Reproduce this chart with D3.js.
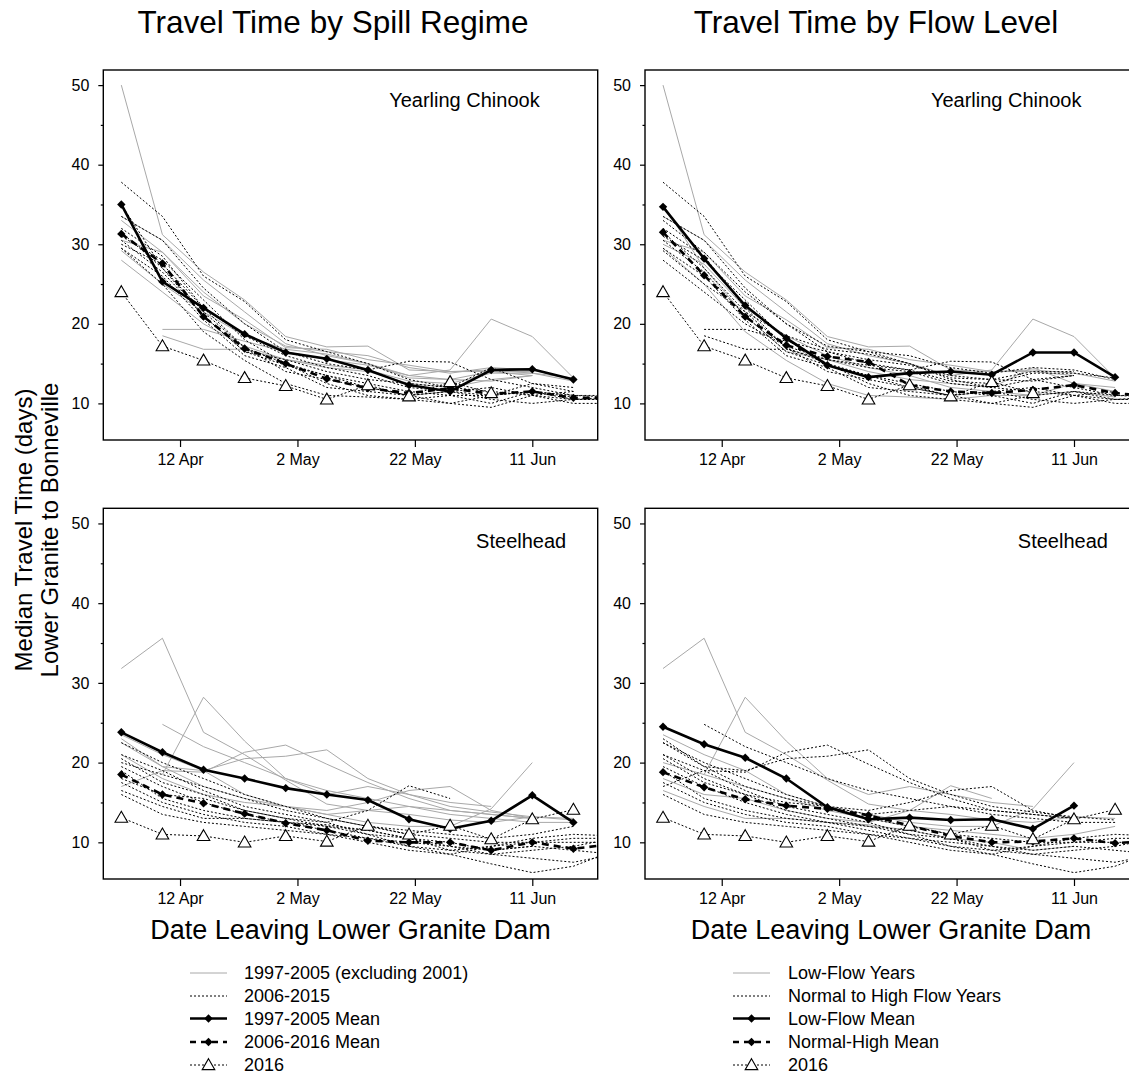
<!DOCTYPE html>
<html>
<head>
<meta charset="utf-8">
<script src="https://d3js.org/d3.v7.min.js"></script>
<style>
body { margin: 0; background: #fff; }
text { font-family: "Liberation Sans", Arial, sans-serif; fill: #000; }
</style>
</head>
<body>
<script>

// weekly release dates (last one falls just past the axis and gets clipped)
var weeks = ["2016-04-02", "2016-04-09", "2016-04-16", "2016-04-23", "2016-04-30", "2016-05-07",
             "2016-05-14", "2016-05-21", "2016-05-28", "2016-06-04", "2016-06-11", "2016-06-18", "2016-06-25"];

var years = [1997, 1998, 1999, 2000, 2002, 2003, 2004, 2005,
             2006, 2007, 2008, 2009, 2010, 2011, 2012, 2013, 2014, 2015];
var lowFlowYears = [2003, 2004, 2005, 2007, 2010, 2015];

// one row per year, same order as years
var chinookByYear = [
  [null, 19.3, 19.3, 17.8, 16.5, 15.5, 14.8, 13.5, 13.0, 12.8, 13.5, null, null],
  [null, 18.5, 16.8, 16.8, 15.5, 14.5, 14.0, 12.5, 12.0, 13.0, 13.5, null, null],
  [28.0, 24.0, 20.0, 17.2, 15.5, 14.8, 14.2, 12.8, 12.5, 13.8, 13.8, 13.2, null],
  [29.2, 25.0, 21.5, 18.5, 16.8, 16.2, 15.0, 13.2, 13.0, 14.0, 14.0, null, null],
  [33.0, 29.0, 24.0, 20.0, 17.2, 16.5, 16.0, 14.5, 13.8, 14.5, 14.2, 13.0, null],
  [30.5, 29.0, 23.5, 20.5, 17.0, 16.8, 15.5, 14.8, 14.0, 14.2, 13.8, 12.8, null],
  [33.5, 30.5, 25.5, 21.5, 17.5, 16.0, 15.0, 13.5, 14.2, 20.6, 18.4, 13.2, null],
  [50.0, 31.2, 26.5, 23.0, 18.4, 17.1, 17.2, 14.2, 14.0, 14.0, 13.5, null, null],
  [37.8, 33.5, 26.0, 22.8, 18.0, 16.5, 15.0, 13.0, 12.0, 11.5, 11.0, 10.5, 10.5],
  [30.0, 27.5, 22.0, 18.5, 16.0, 14.5, 13.5, 12.0, 11.5, 11.0, 11.5, 10.8, null],
  [33.5, 30.5, 24.5, 20.0, 16.5, 15.0, 14.2, 15.3, 15.2, 13.0, 12.0, 11.0, 10.8],
  [32.0, 28.5, 22.0, 17.0, 15.0, 13.5, 12.0, 11.0, 11.5, 12.0, 11.0, 10.0, 10.0],
  [35.0, 27.0, 21.0, 16.5, 15.5, 14.0, 13.0, 12.5, 12.0, 14.5, 12.5, 11.5, null],
  [31.0, 28.0, 23.0, 18.0, 15.0, 12.5, 11.0, 10.5, 10.0, 11.0, 11.5, 11.0, 11.0],
  [29.5, 26.0, 20.5, 16.0, 14.5, 12.0, 11.5, 11.0, 11.5, 10.5, 10.0, 10.5, 10.5],
  [31.5, 27.0, 21.5, 17.0, 14.0, 13.0, 12.0, 11.0, 10.0, 9.5, 11.0, 11.5, null],
  [30.5, 26.5, 21.0, 16.5, 14.8, 13.5, 12.5, 11.5, 11.0, 10.0, 11.5, 10.5, 10.8],
  [29.5, 25.0, 19.0, 15.4, 12.5, 11.0, 10.8, 10.5, 11.0, 11.0, 12.5, 12.0, null]
];

var steelheadByYear = [
  [null, 24.8, 22.0, 20.0, 18.0, 16.5, 15.5, 14.5, 14.0, 13.5, 13.0, null, null],
  [17.0, 19.0, 18.8, 21.3, 22.2, 19.8, 17.5, 15.5, 14.0, 13.5, 13.0, null, null],
  [22.5, 19.5, 19.0, 20.5, 20.8, 21.6, 18.0, 16.0, 14.5, 13.8, 13.2, 12.8, null],
  [21.0, 18.0, 16.0, 15.0, 14.5, 14.0, 15.0, 16.5, 17.0, 14.0, 13.0, null, null],
  [23.0, 19.5, 17.0, 15.5, 14.5, 13.5, 14.0, 14.5, 13.5, 13.0, 12.5, 12.5, null],
  [23.5, 21.0, 19.0, 16.0, 14.5, 13.5, 12.5, 12.0, 12.0, 14.2, 20.0, null, null],
  [null, 18.5, 28.2, 22.7, 18.0, 16.0, 17.0, 16.0, 15.0, 14.5, null, null, null],
  [31.8, 35.6, 23.8, 21.0, 17.8, 14.8, 14.0, 13.5, 12.8, 12.5, 13.2, 13.0, null],
  [22.5, 20.0, 18.0, 16.0, 14.5, 13.0, 12.0, 11.0, 10.5, 10.0, 10.0, 10.5, 10.5],
  [20.0, 18.5, 17.0, 15.5, 14.0, 13.0, 12.0, 11.5, 11.0, 10.5, 11.0, 12.0, null],
  [21.0, 19.0, 16.5, 14.5, 13.5, 12.5, 11.0, 10.5, 9.5, 8.5, 9.0, 9.5, 10.5],
  [19.5, 17.0, 15.0, 13.5, 12.5, 11.5, 10.5, 9.5, 9.0, 8.5, 8.0, 7.5, 8.5],
  [18.0, 16.0, 15.5, 14.0, 13.0, 12.5, 14.0, 17.1, 15.5, null, null, null, null],
  [17.5, 15.0, 13.5, 12.5, 12.0, 11.0, 10.0, 9.0, 8.5, 7.3, 6.2, 7.0, 9.0],
  [16.0, 13.5, 12.5, 12.0, 11.5, 11.0, 10.5, 10.0, 9.5, 9.0, 9.5, 9.0, 8.5],
  [19.0, 15.5, 14.0, 13.0, 12.5, 12.0, 11.0, 9.5, 8.5, 9.5, 10.0, 10.0, 10.0],
  [20.5, 17.5, 16.0, 14.0, 13.0, 12.0, 11.5, 10.5, 9.0, 9.5, 10.5, 11.0, 10.8],
  [16.5, 14.5, 13.0, 13.0, 12.5, 12.2, 11.5, 10.5, 10.0, 9.0, 9.5, null, null]
];

var chinookMean9705 = [35.0, 25.3, 22.0, 18.7, 16.4, 15.6, 14.2, 12.3, 11.5, 14.2, 14.3, 13.0, null];
var chinookMean0616 = [31.3, 27.6, 20.9, 16.9, 15.0, 13.1, 11.9, 11.3, 11.9, 11.2, 11.5, 10.7, 10.7];
var chinookLowMean  = [34.7, 28.2, 22.3, 18.2, 14.8, 13.3, 13.8, 14.0, 13.6, 16.4, 16.4, 13.3, null];
var chinookHighMean = [31.5, 26.1, 20.9, 17.3, 15.9, 15.2, 12.3, 11.5, 11.3, 11.7, 12.3, 11.3, 10.8];
var chinook2016     = [24.0, 17.2, 15.4, 13.2, 12.2, 10.5, 12.3, 10.9, 12.7, 11.3, null, null, null];

var steelheadMean9705 = [23.8, 21.3, 19.1, 18.0, 16.8, 16.0, 15.3, 12.9, 11.7, 12.7, 15.9, 12.5, null];
var steelheadMean0616 = [18.5, 16.0, 14.9, 13.6, 12.4, 11.5, 10.2, 10.0, 10.0, 9.0, 10.0, 9.2, 9.8];
var steelheadLowMean  = [24.5, 22.3, 20.6, 18.0, 14.4, 12.9, 13.1, 12.8, 12.9, 11.7, 14.6, null, null];
var steelheadHighMean = [18.8, 16.9, 15.4, 14.6, 14.2, 13.4, 12.1, 10.8, 10.0, 10.1, 10.5, 9.9, 10.2];
var steelhead2016     = [13.1, 11.0, 10.8, 10.0, 10.8, 10.1, 12.1, 11.0, 12.1, 10.4, 12.9, 14.1, null];

var yTicks = [10, 20, 30, 40, 50];
var yMinor = [15, 25, 35, 45];
var xTicks = ["2016-04-12", "2016-05-02", "2016-05-22", "2016-06-11"];

var titles = ["Travel Time by Spill Regime", "Travel Time by Flow Level"];
var spillLegend = ["1997-2005 (excluding 2001)", "2006-2015", "1997-2005 Mean", "2006-2016 Mean", "2016"];
var flowLegend = ["Low-Flow Years", "Normal to High Flow Years", "Low-Flow Mean", "Normal-High Mean", "2016"];

var parse = d3.timeParse("%Y-%m-%d");
var weekDates = weeks.map(parse);
var xDomain = [new Date(2016, 2, 29, 22, 19), new Date(2016, 5, 22, 3, 22)];

var svg = d3.select("body").append("svg")
    .attr("width", 1129)
    .attr("height", 1078);

var panels = [
  {x0: 103.3, y0: 70,    w: 494.4, h: 370,   sp: "chinook",   mode: "spill"},
  {x0: 645,   y0: 70,    w: 494.4, h: 370,   sp: "chinook",   mode: "flow"},
  {x0: 103.3, y0: 508.3, w: 494.4, h: 370.7, sp: "steelhead", mode: "spill"},
  {x0: 645,   y0: 508.3, w: 494.4, h: 370.7, sp: "steelhead", mode: "flow"}
];

function diamond(r) { return "M0," + (-r) + "L" + r + ",0L0," + r + "L" + (-r) + ",0Z"; }
var triangle = "M0,-6.3L6.3,4.6L-6.3,4.6Z";

panels.forEach(function(p, pi) {
  var x = d3.scaleTime().domain(xDomain).range([p.x0, p.x0 + p.w]);
  var y = d3.scaleLinear().domain([5.4, 51.9]).range([p.y0 + p.h, p.y0]);

  var rows = p.sp == "chinook" ? chinookByYear : steelheadByYear;
  var solidMean, dashedMean, y2016;
  if (p.sp == "chinook") {
    solidMean = p.mode == "spill" ? chinookMean9705 : chinookLowMean;
    dashedMean = p.mode == "spill" ? chinookMean0616 : chinookHighMean;
    y2016 = chinook2016;
  } else {
    solidMean = p.mode == "spill" ? steelheadMean9705 : steelheadLowMean;
    dashedMean = p.mode == "spill" ? steelheadMean0616 : steelheadHighMean;
    y2016 = steelhead2016;
  }

  var line = d3.line()
      .defined(function(d) { return d[1] != null; })
      .x(function(d) { return x(d[0]); })
      .y(function(d) { return y(d[1]); });

  function pts(vals) { return vals.map(function(v, i) { return [weekDates[i], v]; }); }

  svg.append("clipPath").attr("id", "clip" + pi)
    .append("rect")
    .attr("x", p.x0).attr("y", p.y0).attr("width", p.w).attr("height", p.h);

  var g = svg.append("g").attr("clip-path", "url(#clip" + pi + ")");

  var isGray = function(yr) {
    return p.mode == "spill" ? yr <= 2005 : lowFlowYears.indexOf(yr) >= 0;
  };

  // light grey years first, then the dotted ones
  years.forEach(function(yr, i) {
    if (!isGray(yr)) return;
    g.append("path").attr("d", line(pts(rows[i])))
      .attr("fill", "none").attr("stroke", "#a8a8a8").attr("stroke-width", 1);
  });
  years.forEach(function(yr, i) {
    if (isGray(yr)) return;
    g.append("path").attr("d", line(pts(rows[i])))
      .attr("fill", "none").attr("stroke", "#000").attr("stroke-width", 1)
      .attr("stroke-dasharray", "2,2");
  });

  g.append("path").attr("d", line(pts(dashedMean)))
    .attr("fill", "none").attr("stroke", "#000").attr("stroke-width", 2.6)
    .attr("stroke-dasharray", "7,5");
  g.append("path").attr("d", line(pts(solidMean)))
    .attr("fill", "none").attr("stroke", "#000").attr("stroke-width", 2.6);

  [dashedMean, solidMean].forEach(function(m) {
    g.selectAll(null).data(pts(m).filter(function(d) { return d[1] != null; }))
      .enter().append("path")
      .attr("d", diamond(4.2))
      .attr("transform", function(d) { return "translate(" + x(d[0]) + "," + y(d[1]) + ")"; })
      .attr("fill", "#000");
  });

  g.append("path").attr("d", line(pts(y2016)))
    .attr("fill", "none").attr("stroke", "#000").attr("stroke-width", 1)
    .attr("stroke-dasharray", "2,2");
  g.selectAll(null).data(pts(y2016).filter(function(d) { return d[1] != null; }))
    .enter().append("path")
    .attr("d", triangle)
    .attr("transform", function(d) { return "translate(" + x(d[0]) + "," + y(d[1]) + ")"; })
    .attr("fill", "#fff").attr("stroke", "#000").attr("stroke-width", 1.1);

  // axes
  var yAxis = svg.append("g")
    .attr("transform", "translate(" + p.x0 + ",0)")
    .call(d3.axisLeft(y).tickValues(yTicks).tickSize(5).tickPadding(9).tickSizeOuter(0));
  var yMin = svg.append("g")
    .attr("transform", "translate(" + p.x0 + ",0)")
    .call(d3.axisLeft(y).tickValues(yMinor).tickSize(2.5).tickFormat("").tickSizeOuter(0));
  var xAxis = svg.append("g")
    .attr("transform", "translate(0," + (p.y0 + p.h) + ")")
    .call(d3.axisBottom(x).tickValues(xTicks.map(parse)).tickFormat(d3.timeFormat("%-d %b"))
          .tickSize(7).tickPadding(7).tickSizeOuter(0));
  [yAxis, yMin, xAxis].forEach(function(a) {
    a.select(".domain").remove();
    a.selectAll("line").attr("stroke", "#000").attr("stroke-width", 1.2);
    a.selectAll("text").style("font-family", "'Liberation Sans', Arial, sans-serif")
      .style("font-size", "16px").attr("fill", "#000");
  });

  svg.append("rect")
    .attr("x", p.x0).attr("y", p.y0).attr("width", p.w).attr("height", p.h)
    .attr("fill", "none").attr("stroke", "#000").attr("stroke-width", 1.4);

  var label = p.sp == "chinook" ? "Yearling Chinook" : "Steelhead";
  svg.append("text")
    .attr("x", p.x0 + p.w - (p.sp == "chinook" ? 58 : 31.5))
    .attr("y", p.y0 + (p.sp == "chinook" ? 37 : 40))
    .attr("text-anchor", "end")
    .style("font-size", "20px")
    .text(label);
});

// titles
[333, 876].forEach(function(cx, i) {
  svg.append("text").attr("x", cx).attr("y", 33)
    .attr("text-anchor", "middle").style("font-size", "31.5px").text(titles[i]);
});
[350.5, 891].forEach(function(cx) {
  svg.append("text").attr("x", cx).attr("y", 939)
    .attr("text-anchor", "middle").style("font-size", "27px").text("Date Leaving Lower Granite Dam");
});

svg.append("text").attr("transform", "translate(32,530) rotate(-90)")
  .attr("text-anchor", "middle").style("font-size", "24px").text("Median Travel Time (days)");
svg.append("text").attr("transform", "translate(58,530) rotate(-90)")
  .attr("text-anchor", "middle").style("font-size", "24px").text("Lower Granite to Bonneville");

// legends
var legendRows = [973, 996, 1018.5, 1042, 1065];
function drawLegend(x1, x2, tx, labels) {
  var lg = svg.append("g");
  var mid = (x1 + x2) / 2;
  labels.forEach(function(lab, i) {
    var ly = legendRows[i];
    var ln = lg.append("line").attr("x1", x1).attr("x2", x2).attr("y1", ly).attr("y2", ly)
      .attr("stroke", "#000").attr("stroke-width", 1);
    if (i == 0) ln.attr("stroke", "#a8a8a8");
    if (i == 1 || i == 4) ln.attr("stroke-dasharray", "2,2");
    if (i == 2) ln.attr("stroke-width", 2.6);
    if (i == 3) ln.attr("stroke-width", 2.6).attr("stroke-dasharray", "6,5");
    if (i == 2 || i == 3) {
      lg.append("path").attr("d", diamond(4.2))
        .attr("transform", "translate(" + mid + "," + ly + ")").attr("fill", "#000");
    }
    if (i == 4) {
      lg.append("path").attr("d", triangle)
        .attr("transform", "translate(" + mid + "," + ly + ")")
        .attr("fill", "#fff").attr("stroke", "#000").attr("stroke-width", 1.1);
    }
    lg.append("text").attr("x", tx).attr("y", ly).attr("dy", "0.35em")
      .style("font-size", "18px").text(lab);
  });
}
drawLegend(190, 227, 244, spillLegend);
drawLegend(733, 770, 788, flowLegend);

</script>
</body>
</html>
